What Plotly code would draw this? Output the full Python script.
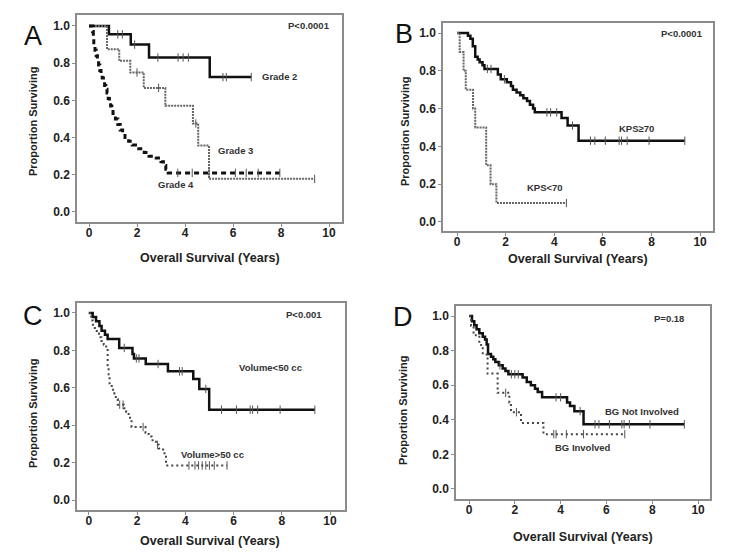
import plotly.graph_objects as go

W, H = 735, 559

# ---- Panel A: tumour grade ----
g2_t = [0.83, 1.74, 2.5, 5.03]
g2_s = [0.955, 0.90, 0.83, 0.725]
g2_cens = [1.2, 1.39, 1.9, 2.87, 3.71, 3.92, 4.14, 5.58, 5.72, 6.76]

g3_t = [0.75, 1.26, 1.72, 2.28, 3.18, 4.33, 4.55, 5.0]
g3_s = [0.875, 0.8125, 0.75, 0.667, 0.571, 0.476, 0.357, 0.178]
g3_cens = [2.0, 2.9, 4.45, 9.4]

g4_t = [0.15, 0.18, 0.2, 0.25, 0.3, 0.35, 0.4, 0.45, 0.5, 0.55, 0.6, 0.65, 0.7, 0.75,
        0.8, 0.85, 0.9, 0.95, 1.0, 1.1, 1.2, 1.3, 1.4, 1.5, 1.65, 1.8, 2.0, 2.3, 2.5,
        2.8, 3.0, 3.1, 3.2, 3.3]
g4_s = [0.97, 0.93, 0.90, 0.87, 0.84, 0.81, 0.79, 0.76, 0.74, 0.72, 0.70, 0.68, 0.66, 0.64,
        0.61, 0.59, 0.57, 0.55, 0.53, 0.50, 0.47, 0.44, 0.42, 0.40, 0.38, 0.36, 0.34, 0.32, 0.30,
        0.29, 0.27, 0.25, 0.23, 0.21]
g4_cens = [3.7, 4.3, 5.0, 6.1, 6.55, 7.05, 7.95]

# ---- Panel B: KPS ----
kps_hi_t = [0.45, 0.55, 0.65, 0.75, 0.85, 0.93, 1.05, 1.13, 1.68, 1.8, 2.05, 2.22, 2.3, 2.45,
            2.6, 2.73, 2.88, 3.0, 3.13, 3.2, 4.3, 4.55, 5.0]
kps_hi_s = [0.985, 0.97, 0.93, 0.875, 0.86, 0.845, 0.83, 0.81, 0.78, 0.755, 0.74, 0.72, 0.70, 0.685,
            0.67, 0.655, 0.64, 0.62, 0.60, 0.58, 0.55, 0.51, 0.43]
kps_hi_cens = [1.25, 1.4, 1.95, 3.7, 3.85, 4.1, 4.75, 5.49, 5.67, 6.1, 6.67, 6.77, 7.0, 7.9, 9.37]

kps_lo_t = [0.11, 0.27, 0.36, 0.66, 0.75, 1.2, 1.38, 1.62]
kps_lo_s = [0.9, 0.8, 0.7, 0.6, 0.5, 0.3, 0.2, 0.1]
kps_lo_cens = [4.5]

# ---- Panel C: tumour volume ----
vol_lo_t = [0.16, 0.3, 0.44, 0.53, 0.67, 0.78, 1.26, 1.81, 1.87, 2.36, 3.28, 4.33, 4.58, 4.99]
vol_lo_s = [0.978, 0.955, 0.93, 0.905, 0.883, 0.861, 0.813, 0.78, 0.757, 0.727, 0.688, 0.647, 0.594, 0.483]
vol_lo_cens = [1.47, 1.97, 2.08, 2.87, 3.76, 3.87, 4.85, 5.5, 6.12, 6.69, 6.79, 7.0, 7.93, 9.37]

vol_hi_t = [0.1, 0.17, 0.25, 0.33, 0.42, 0.52, 0.62, 0.72, 0.78, 0.82, 0.86, 0.95, 1.06, 1.12,
            1.2, 1.45, 1.55, 1.65, 1.77, 2.35, 2.48, 2.6, 2.78, 2.9, 3.08, 3.2]
vol_hi_s = [0.96, 0.93, 0.91, 0.89, 0.87, 0.85, 0.83, 0.81, 0.72, 0.66, 0.61, 0.59, 0.57, 0.54,
            0.51, 0.49, 0.47, 0.44, 0.39, 0.36, 0.34, 0.32, 0.295, 0.275, 0.25, 0.185]
vol_hi_cens = [1.28, 1.42, 2.25, 2.85, 4.15, 4.4, 4.55, 4.7, 4.85, 5.0, 5.2, 5.73]

# ---- Panel D: basal ganglia ----
bg_no_t = [0.13, 0.23, 0.33, 0.45, 0.6, 0.7, 0.77, 0.83, 0.96, 1.06, 1.15, 1.3, 1.47, 1.59,
           1.72, 2.34, 2.52, 2.7, 2.88, 3.0, 3.19, 4.28, 4.41, 4.6, 5.0]
bg_no_s = [0.97, 0.946, 0.923, 0.90, 0.88, 0.865, 0.836, 0.78, 0.765, 0.75, 0.734, 0.715, 0.697, 0.682,
           0.663, 0.644, 0.618, 0.60, 0.58, 0.56, 0.53, 0.50, 0.48, 0.45, 0.374]
bg_no_cens = [1.35, 1.85, 2.0, 2.15, 3.8, 4.0, 4.85, 5.5, 5.67, 6.13, 6.67, 6.77, 7.0, 7.9, 9.4]

bg_yes_t = [0.09, 0.2, 0.45, 0.6, 0.81, 1.25, 1.76, 1.83, 2.27, 3.25]
bg_yes_s = [0.944, 0.889, 0.833, 0.778, 0.667, 0.556, 0.5, 0.444, 0.381, 0.317]
bg_yes_cens = [1.6, 2.07, 3.7, 3.8, 4.25, 5.0, 6.8]

x_ticks = [0, 2, 4, 6, 8, 10]
y_ticks = [0.0, 0.2, 0.4, 0.6, 0.8, 1.0]


def surv_at(t, times, surv):
    s = 1.0
    for ti, si in zip(times, surv):
        if ti <= t:
            s = si
    return s


def add_curve(fig, times, surv, cens, ax, line):
    end = max(cens + times)
    xs = [0] + times + [end]
    ys = [1.0] + surv + [surv[-1]]
    fig.add_trace(go.Scatter(x=xs, y=ys, mode='lines', line_shape='hv', line=line,
                             xaxis='x' + ax, yaxis='y' + ax, showlegend=False, hoverinfo='skip'))
    fig.add_trace(go.Scatter(x=cens, y=[surv_at(c, times, surv) for c in cens], mode='markers',
                             marker=dict(symbol='line-ns', size=6, line=dict(width=1, color='#555')),
                             xaxis='x' + ax, yaxis='y' + ax, showlegend=False, hoverinfo='skip'))


solid = dict(color='#111', width=2.5)
dense_dot = dict(color='#666', width=2, dash='2px,1px')
sparse_dot = dict(color='#444', width=2, dash='2px,3px')
dashed = dict(color='#111', width=3, dash='5px,4px')

fig = go.Figure()
add_curve(fig, g2_t, g2_s, g2_cens, '', solid)
add_curve(fig, g3_t, g3_s, g3_cens, '', dense_dot)
add_curve(fig, g4_t, g4_s, g4_cens, '', dashed)
add_curve(fig, kps_hi_t, kps_hi_s, kps_hi_cens, '2', solid)
add_curve(fig, kps_lo_t, kps_lo_s, kps_lo_cens, '2', dense_dot)
add_curve(fig, vol_lo_t, vol_lo_s, vol_lo_cens, '3', solid)
add_curve(fig, vol_hi_t, vol_hi_s, vol_hi_cens, '3', sparse_dot)
add_curve(fig, bg_no_t, bg_no_s, bg_no_cens, '4', solid)
add_curve(fig, bg_yes_t, bg_yes_s, bg_yes_cens, '4', sparse_dot)

# panel boxes in pixels: left, right, top, bottom ; axis ranges
panels = {
    '': dict(box=(77, 342, 15, 222), xr=[-0.5, 10.54], yr=[-0.054, 1.059]),
    '2': dict(box=(443, 713, 23, 231), xr=[-0.576, 10.53], yr=[-0.048, 1.053]),
    '3': dict(box=(77, 345, 303, 510), xr=[-0.49, 10.62], yr=[-0.053, 1.053]),
    '4': dict(box=(456, 710, 306, 499), xr=[-0.568, 10.52], yr=[-0.058, 1.058]),
}

tick_font = dict(family='Liberation Sans', size=12, color='#222', weight='bold')
axis_common = dict(showline=True, mirror=True, linecolor='#8c8c8c', linewidth=1.5,
                   ticks='outside', ticklen=3, tickcolor='#8c8c8c', tickwidth=1,
                   showgrid=False, zeroline=False, tickfont=tick_font, fixedrange=True)

layout = {}
for ax, p in panels.items():
    l, r, t, b = p['box']
    layout['xaxis' + ax] = dict(axis_common, domain=[l / W, r / W], range=p['xr'],
                                tickvals=x_ticks, anchor='y' + ax, ticklabelstandoff=-4)
    layout['yaxis' + ax] = dict(axis_common, domain=[1 - b / H, 1 - t / H], range=p['yr'],
                                tickvals=y_ticks, tickformat='.1f', anchor='x' + ax)
fig.update_layout(**layout)

ann = []
# panel letters
for letter, x, y in [('A', 33, 36), ('B', 404, 34), ('C', 33, 316), ('D', 403, 317)]:
    ann.append(dict(text=letter, x=x / W, y=1 - y / H, xref='paper', yref='paper', showarrow=False,
                    font=dict(family='Liberation Sans', size=27, color='#111'),
                    xanchor='center', yanchor='middle'))
# axis titles
for x, y in [(210, 258), (578, 259), (210, 541), (583, 537)]:
    ann.append(dict(text='Overall Survival (Years)', x=x / W, y=1 - y / H, xref='paper', yref='paper',
                    showarrow=False, xanchor='center', yanchor='middle',
                    font=dict(family='Liberation Sans', size=12.5, color='#222', weight='bold')))
for x, y in [(33, 122), (405, 131), (33, 414), (403, 411)]:
    ann.append(dict(text='Proportion Surviving', x=x / W, y=1 - y / H, xref='paper', yref='paper',
                    showarrow=False, textangle=-90, xanchor='center', yanchor='middle',
                    font=dict(family='Liberation Sans', size=11, color='#222', weight='bold')))
# in-plot labels (data coordinates)
labels = [
    ('', 'P<0.0001', 8.2, 1.0), ('', 'Grade 2', 7.12, 0.726), ('', 'Grade 3', 5.29, 0.33),
    ('', 'Grade 4', 2.79, 0.15),
    ('2', 'P<0.0001', 8.31, 1.0), ('2', 'KPS≥70', 6.58, 0.497), ('2', 'KPS<70', 2.8, 0.18),
    ('3', 'P<0.001', 8.1, 0.99), ('3', 'Volume<50 cc', 6.13, 0.706), ('3', 'Volume>50 cc', 3.74, 0.246),
    ('4', 'P=0.18', 7.99, 0.983), ('4', 'BG Not Involved', 5.85, 0.45), ('4', 'BG Involved', 3.67, 0.237),
]
for ax, text, x, y in labels:
    ann.append(dict(text=text, x=x, y=y, xref='x' + ax, yref='y' + ax, showarrow=False,
                    xanchor='left', yanchor='middle',
                    font=dict(family='Liberation Sans', size=9.5, color='#333', weight='bold')))

fig.update_layout(annotations=ann, width=W, height=H, margin=dict(l=0, r=0, t=0, b=0),
                  paper_bgcolor='white', plot_bgcolor='white', showlegend=False)

fig.write_html("out.html", config={'displayModeBar': False},
               post_script="document.body.style.margin='0';")
